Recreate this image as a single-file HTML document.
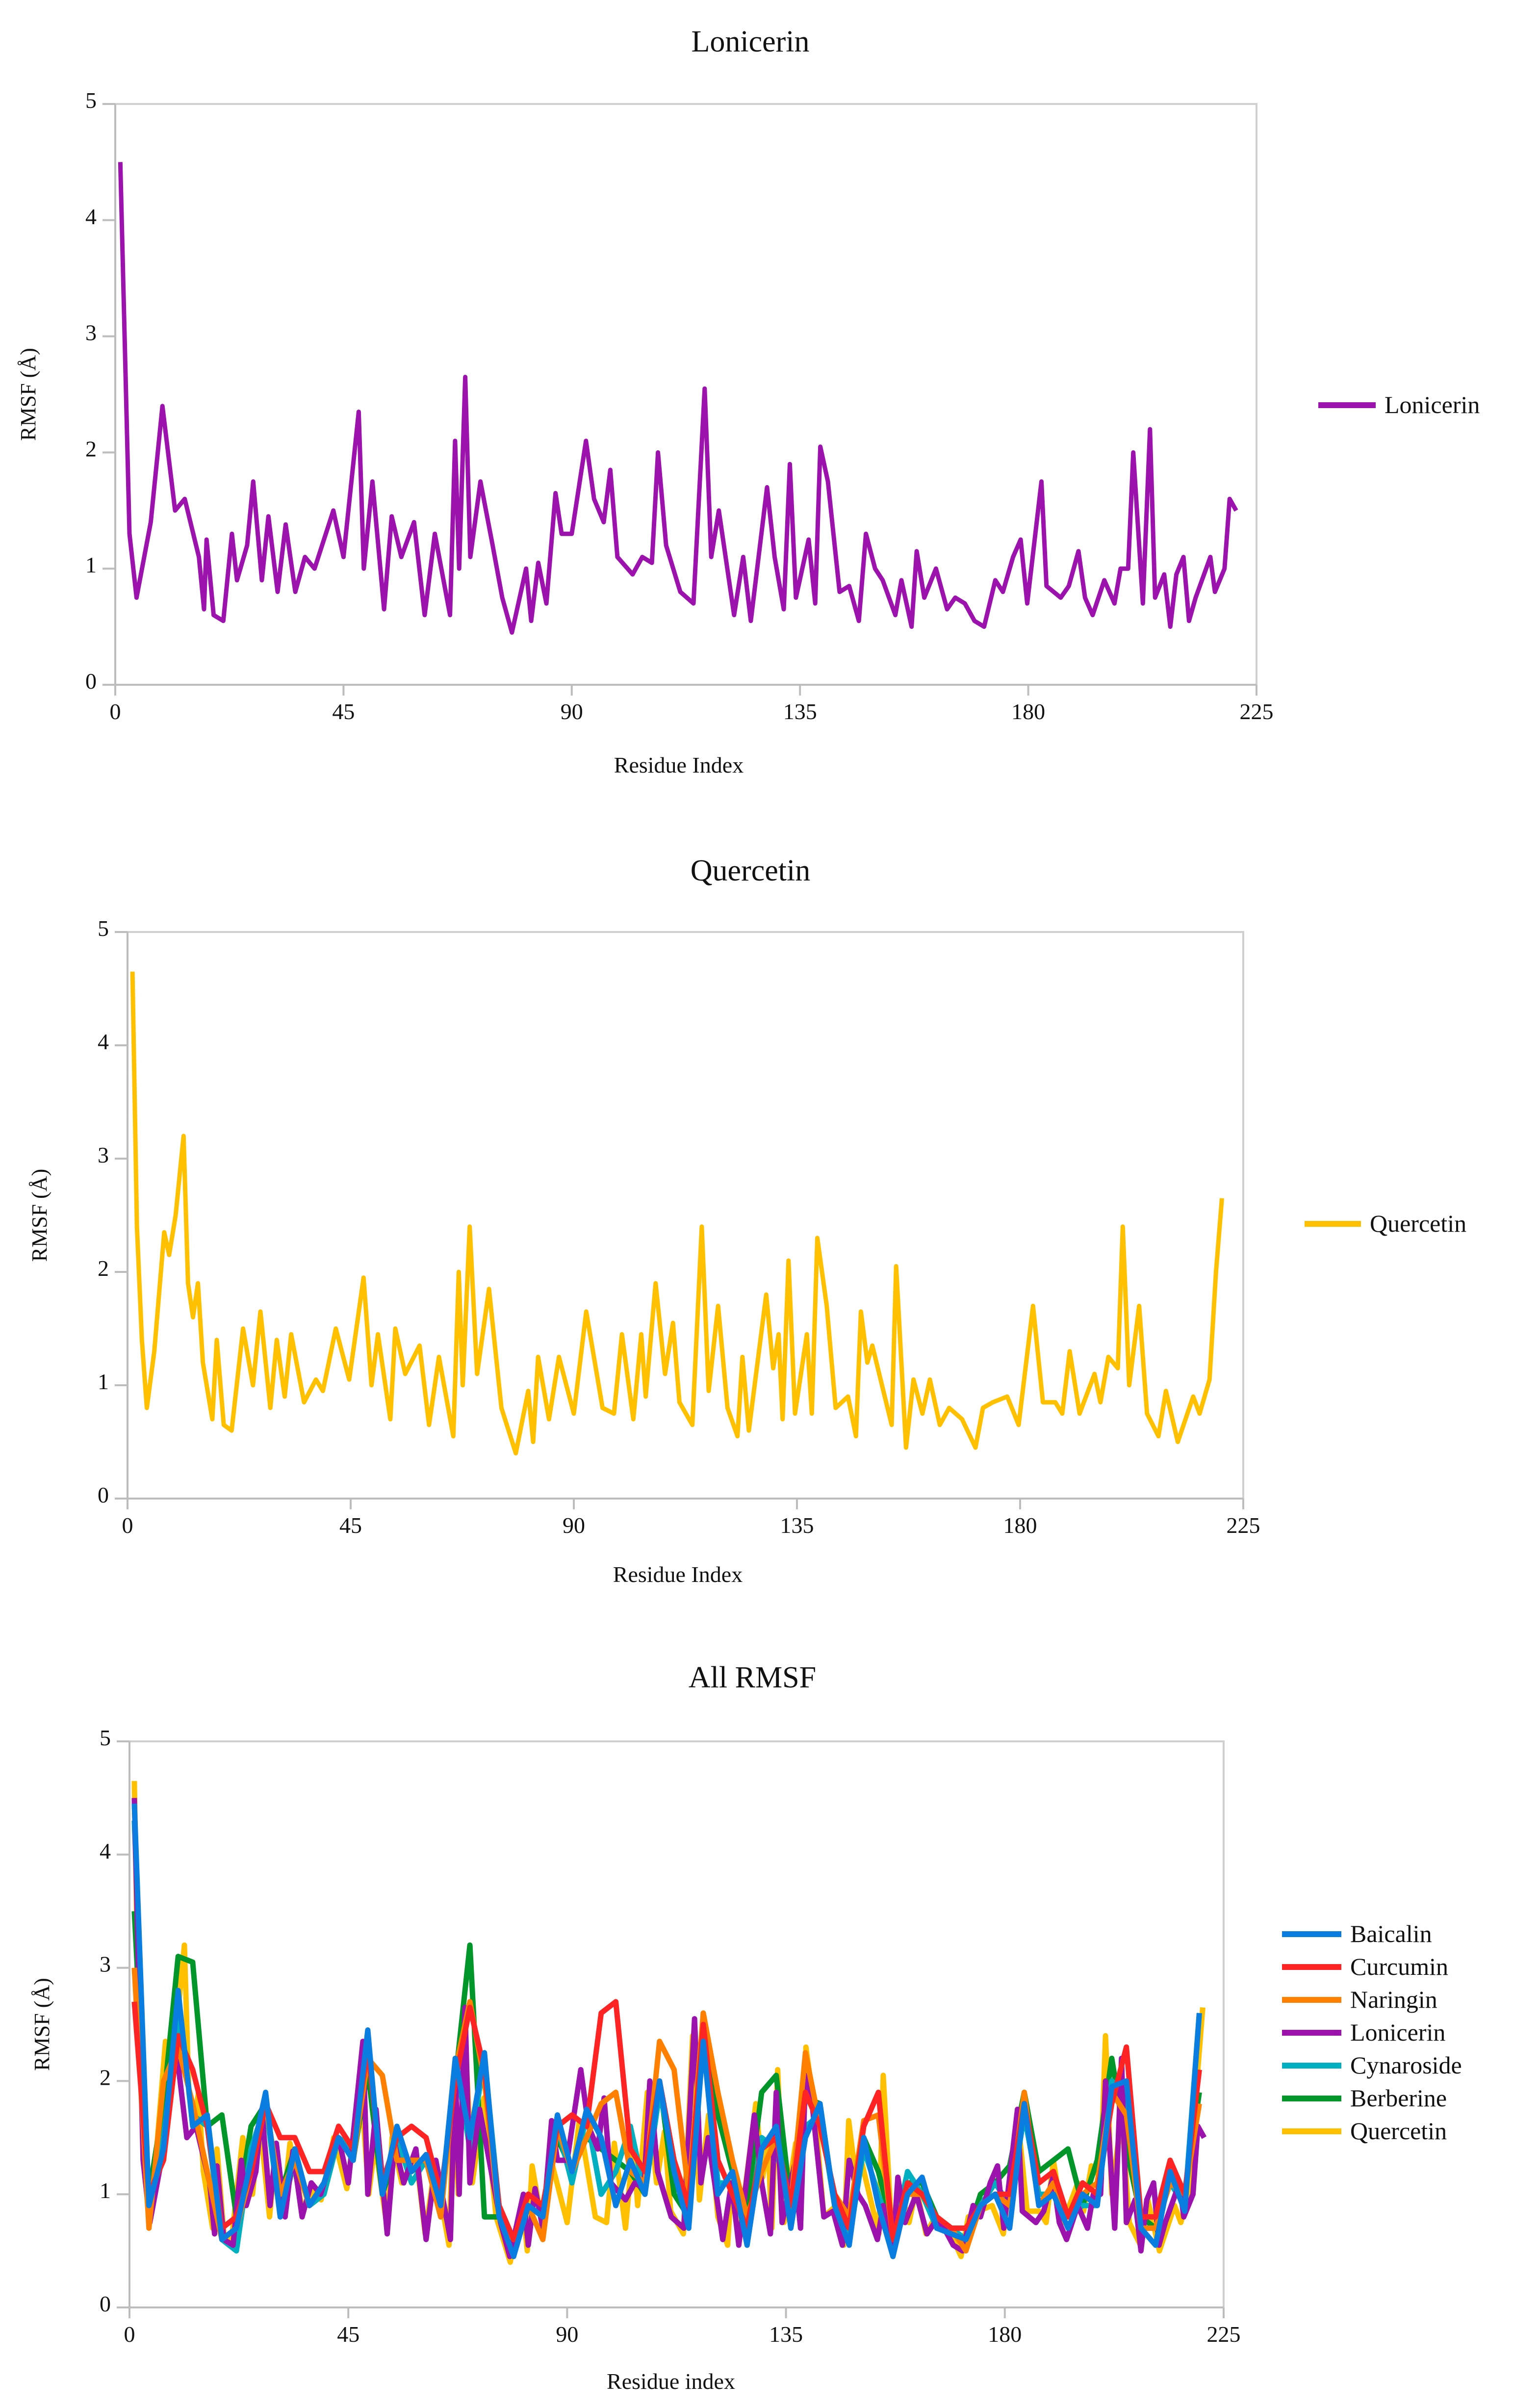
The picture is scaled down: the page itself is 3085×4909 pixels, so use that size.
<!DOCTYPE html>
<html><head><meta charset="utf-8"><style>
html,body{margin:0;padding:0;background:#fff;}
svg{display:block;}
text{font-family:"Liberation Serif",serif;fill:#111;}
</style></head><body>
<svg id="fig" width="3085" height="4909" viewBox="0 0 3085 4909"></svg>
<script>
const lonRes=[1,2.8,4.2,7,9.3,11.8,13.7,16.5,17.5,18,19.4,21.3,23,24,26,27.2,28.9,30.2,32,33.6,35.5,37.4,39.3,43,45,48,49,50.7,53,54.5,56.4,58.9,61,63,66,67,67.8,69,70,72,74.4,76.3,78.2,81,82,83.4,85,86.8,88,90,92.8,94.4,96.3,97.6,99,102,103.9,105.8,107,108.6,111.4,114,116.2,117.5,119,122,123.8,125.3,128.5,130,131.8,133,134.2,136.7,138,139,140.5,142.8,144.7,146.6,148,149.8,151.3,153.8,155,157,158,159.5,161.8,164,165.6,167.5,169.4,171.3,173.5,175,177,178.5,179.8,182.6,183.6,186.4,188,189.9,191.2,192.7,195,197,198.2,199.7,200.7,202.6,204,205,206.8,208,209.2,210.6,211.7,213,215.9,216.8,218.7,219.7,221];
const lonVal=[4.5,1.3,0.75,1.4,2.4,1.5,1.6,1.1,0.65,1.25,0.6,0.55,1.3,0.9,1.2,1.75,0.9,1.45,0.8,1.38,0.8,1.1,1.0,1.5,1.1,2.35,1.0,1.75,0.65,1.45,1.1,1.4,0.6,1.3,0.6,2.1,1.0,2.65,1.1,1.75,1.2,0.75,0.45,1.0,0.55,1.05,0.7,1.65,1.3,1.3,2.1,1.6,1.4,1.85,1.1,0.95,1.1,1.05,2.0,1.2,0.8,0.7,2.55,1.1,1.5,0.6,1.1,0.55,1.7,1.1,0.65,1.9,0.75,1.25,0.7,2.05,1.75,0.8,0.85,0.55,1.3,1.0,0.9,0.6,0.9,0.5,1.15,0.75,1.0,0.65,0.75,0.7,0.55,0.5,0.9,0.8,1.1,1.25,0.7,1.75,0.85,0.75,0.85,1.15,0.75,0.6,0.9,0.7,1.0,1.0,2.0,0.7,2.2,0.75,0.95,0.5,0.95,1.1,0.55,0.75,1.1,0.8,1.0,1.6,1.5];
const queRes=[1,1.9,2.9,3.9,5.4,7.4,8.4,9.7,11.3,12.2,13.2,14.2,15.2,17.1,18,19.4,21,23.3,25.3,26.8,28.8,30.1,31.7,33,35.6,38,39.4,42,44.7,47.6,49.2,50.5,53,54,56,58.9,60.8,62.8,65.7,66.8,67.6,69,70.5,72.9,75.4,78.3,80.8,81.8,82.8,85,87,90,92.5,95.8,98.1,99.7,102,103.6,104.5,106.5,108.4,110,111.3,113.9,115.8,117.2,119.1,121,123,124,125.3,128.8,130.2,131.3,132.1,133.3,134.6,137,138,139.1,141,142.8,145.3,146.9,147.9,149.2,150.2,152.7,154.1,155,157,158.5,160.3,161.8,163.8,165.7,168.3,171,172.5,174.5,177.4,179.7,182.6,184.6,187.1,188.5,190,192,195,196.2,197.8,199.7,200.7,202,204,205.6,207.9,209.4,211.8,214.9,216.2,218.2,219.5,220.7];
const queVal=[4.65,2.4,1.4,0.8,1.3,2.35,2.15,2.5,3.2,1.9,1.6,1.9,1.2,0.7,1.4,0.65,0.6,1.5,1.0,1.65,0.8,1.4,0.9,1.45,0.85,1.05,0.95,1.5,1.05,1.95,1.0,1.45,0.7,1.5,1.1,1.35,0.65,1.25,0.55,2.0,1.0,2.4,1.1,1.85,0.8,0.4,0.95,0.5,1.25,0.7,1.25,0.75,1.65,0.8,0.75,1.45,0.7,1.45,0.9,1.9,1.1,1.55,0.85,0.65,2.4,0.95,1.7,0.8,0.55,1.25,0.6,1.8,1.15,1.45,0.7,2.1,0.75,1.45,0.75,2.3,1.7,0.8,0.9,0.55,1.65,1.2,1.35,0.9,0.65,2.05,0.45,1.05,0.75,1.05,0.65,0.8,0.7,0.45,0.8,0.85,0.9,0.65,1.7,0.85,0.85,0.75,1.3,0.75,1.1,0.85,1.25,1.15,2.4,1.0,1.7,0.75,0.55,0.95,0.5,0.9,0.75,1.05,2.0,2.65];
const gridRes=[1,4,7,10,13,16,19,22,25,28,31,34,37,40,43,46,49,52,55,58,61,64,67,70,73,76,79,82,85,88,91,94,97,100,103,106,109,112,115,118,121,124,127,130,133,136,139,142,145,148,151,154,157,160,163,166,169,172,175,178,181,184,187,190,193,196,199,202,205,208,211,214,217,220];
const baiVal=[4.45,0.9,1.4,2.8,1.6,1.7,0.6,0.7,1.3,1.9,0.8,1.4,0.9,1.1,1.5,1.3,2.45,1.0,1.6,1.2,1.35,0.9,2.2,1.5,2.25,0.8,0.45,0.9,0.8,1.7,1.2,1.75,1.5,0.9,1.3,1.0,2.0,1.2,0.7,2.35,1.0,1.2,0.55,1.4,1.6,0.7,1.5,1.8,0.9,0.55,1.5,0.9,0.45,1.0,1.15,0.7,0.65,0.6,0.9,1.0,0.7,1.8,0.9,1.0,0.7,1.0,0.9,1.95,2.0,0.7,0.55,1.2,0.85,2.6];
const curVal=[2.7,1.0,1.3,2.4,2.1,1.6,0.7,0.8,1.2,1.8,1.5,1.5,1.2,1.2,1.6,1.4,2.3,1.1,1.5,1.6,1.5,1.0,2.0,2.65,2.1,0.9,0.6,1.0,0.9,1.6,1.7,1.6,2.6,2.7,1.4,1.2,2.0,1.3,0.9,2.5,1.3,1.0,0.7,1.4,1.5,0.9,1.9,1.6,1.0,0.7,1.6,1.9,0.6,1.1,1.0,0.8,0.7,0.7,0.9,1.0,1.0,1.8,1.1,1.2,0.8,1.1,1.0,1.8,2.3,0.8,0.8,1.3,1.0,2.1];
const narVal=[3.0,0.7,2.0,2.3,1.8,1.2,0.6,0.7,1.2,1.8,1.0,1.3,0.9,1.1,1.5,1.3,2.2,2.05,1.3,1.3,1.3,0.8,2.1,2.7,2.0,0.8,0.6,0.9,0.6,1.6,1.2,1.5,1.8,1.9,1.2,1.1,2.35,2.1,1.0,2.6,1.9,1.3,0.8,1.2,1.5,0.9,2.25,1.6,1.0,0.8,1.65,1.7,0.6,1.0,1.0,0.8,0.7,0.5,0.9,1.0,0.9,1.9,0.9,1.1,0.8,1.0,1.1,1.9,1.7,0.7,0.7,1.1,1.0,1.8];
const cynVal=[4.3,0.9,1.5,2.6,1.7,1.6,0.6,0.5,1.4,1.8,0.8,1.3,0.9,1.0,1.5,1.4,2.3,1.1,1.5,1.1,1.3,0.8,2.2,1.4,2.2,0.9,0.6,0.9,0.8,1.6,1.1,1.7,1.0,1.2,1.6,1.0,1.9,1.3,0.8,2.6,1.1,1.1,0.6,1.5,1.4,0.8,1.6,1.7,0.9,0.6,1.4,1.0,0.6,1.2,1.0,0.7,0.7,0.6,0.9,1.1,0.9,1.7,1.0,1.0,0.8,0.9,0.9,2.0,1.9,0.7,0.7,1.1,0.9,2.6];
const berVal=[3.5,1.0,1.8,3.1,3.05,1.6,1.7,0.8,1.6,1.8,1.0,1.4,0.9,1.1,1.5,1.3,2.1,1.0,1.4,1.2,1.3,0.9,2.0,3.2,0.8,0.8,0.55,0.9,0.8,1.5,1.2,1.5,1.4,1.3,1.2,1.0,2.0,1.0,0.8,2.4,1.7,1.2,0.9,1.9,2.05,0.9,1.85,1.8,0.9,0.7,1.5,1.2,0.7,1.1,1.1,0.8,0.7,0.6,1.0,1.1,1.25,1.9,1.2,1.3,1.4,0.9,1.3,2.2,1.4,0.8,0.7,1.1,1.0,1.9];
const xTicks=[0,45,90,135,180,225];
const yTicks=[0,1,2,3,4,5];

const NS='http://www.w3.org/2000/svg';
const svg=document.getElementById('fig');
function mk(tag,attrs,parent){const e=document.createElementNS(NS,tag);for(const k in attrs)e.setAttribute(k,attrs[k]);(parent||svg).appendChild(e);return e;}

function chart(cfg){
  const g=mk('g',{});
  
  
  const sx=v=>cfg.L+(v/225)*(cfg.R-cfg.L);
  const sy=v=>cfg.B-(v/5)*(cfg.B-cfg.T);
  const t=mk('text',{x:cfg.titleX,y:cfg.titleY,'text-anchor':'middle','font-size':62},g);
  t.textContent=cfg.title;
  
  
  const fr=mk('rect',{x:cfg.L,y:cfg.T,width:cfg.R-cfg.L,height:cfg.B-cfg.T,fill:'none',stroke:'#d0d0d0','stroke-width':4},g);
  
  
  const ax=mk('line',{x1:cfg.L,y1:cfg.T,x2:cfg.L,y2:cfg.B,stroke:'#bdbdbd','stroke-width':4},g);
  
  
  const ax2=mk('line',{x1:cfg.L,y1:cfg.B,x2:cfg.R,y2:cfg.B,stroke:'#bdbdbd','stroke-width':4},g);
  
  
  yTicks.forEach(v=>{
    mk('line',{x1:cfg.L-26,y1:sy(v),x2:cfg.L,y2:sy(v),stroke:'#bdbdbd','stroke-width':4},g);
    const tl=mk('text',{x:cfg.L-38,y:sy(v)+8,'text-anchor':'end','font-size':46},g);
    tl.textContent=v;
    
    
  });
  xTicks.forEach(v=>{
    mk('line',{x1:sx(v),y1:cfg.B,x2:sx(v),y2:cfg.B+22,stroke:'#bdbdbd','stroke-width':4},g);
    const tl=mk('text',{x:sx(v),y:cfg.B+70,'text-anchor':'middle','font-size':46},g);
    tl.textContent=v;
    
    
  });
  const xl=mk('text',{x:cfg.xLabelX,y:cfg.xLabelY,'text-anchor':'middle','font-size':46},g);
  xl.textContent=cfg.xLabel;
  
  
  const yl=mk('text',{x:0,y:0,'text-anchor':'middle','font-size':44,transform:`translate(${cfg.yLabelX},${(cfg.T+cfg.B)/2}) rotate(-90)`},g);
  yl.textContent='RMSF (Å)';
  
  
  cfg.series.forEach(s=>{
    const d=s.res.map((r,i)=>(i?'L':'M')+sx(r).toFixed(1)+' '+sy(s.val[i]).toFixed(1)).join(' ');
    const p=mk('path',{d:d,fill:'none',stroke:s.color,'stroke-width':cfg.lw,'stroke-linejoin':'round'},g);
    
    
  });
  cfg.legend.forEach((s,i)=>{
    const y=cfg.legY+i*cfg.legStep;
    const lg=mk('g',{},g);
    
    
    mk('line',{x1:cfg.legX1,y1:y,x2:cfg.legX2,y2:y,stroke:s.color,'stroke-width':12},lg);
    const tt=mk('text',{x:cfg.legX2+18,y:y+16,'font-size':50},lg);
    tt.textContent=s.label;
  });
}
const cLon='#9c12ad',cQue='#ffc000';
chart({name:'lonicerin',title:'Lonicerin',titleX:1530,titleY:105,L:235,R:2562,T:212,B:1396,lw:9,xLabel:'Residue Index',xLabelX:1384,xLabelY:1575,yLabelX:72,
  series:[{label:'Lonicerin',res:lonRes,val:lonVal,color:cLon}],
  legend:[{label:'Lonicerin',color:cLon}],legX1:2688,legX2:2805,legY:826,legStep:0});
chart({name:'quercetin',title:'Quercetin',titleX:1530,titleY:1795,L:260,R:2535,T:1900,B:3055,lw:9,xLabel:'Residue Index',xLabelX:1382,xLabelY:3225,yLabelX:95,
  series:[{label:'Quercetin',res:queRes,val:queVal,color:cQue}],
  legend:[{label:'Quercetin',color:cQue}],legX1:2660,legX2:2775,legY:2495,legStep:0});
const all=[
 {label:'Baicalin',res:gridRes,val:baiVal,color:'#0a7ee0'},
 {label:'Curcumin',res:gridRes,val:curVal,color:'#ff2424'},
 {label:'Naringin',res:gridRes,val:narVal,color:'#ff8000'},
 {label:'Lonicerin',res:lonRes,val:lonVal,color:cLon},
 {label:'Cynaroside',res:gridRes,val:cynVal,color:'#00b0c0'},
 {label:'Berberine',res:gridRes,val:berVal,color:'#00962a'},
 {label:'Quercetin',res:queRes,val:queVal,color:cQue}];
chart({name:'all-rmsf',title:'All RMSF',titleX:1534,titleY:3440,L:264,R:2495,T:3550,B:4704,lw:11,xLabel:'Residue index',xLabelX:1368,xLabelY:4870,yLabelX:100,
  series:all.slice().reverse(),legend:all,legX1:2614,legX2:2735,legY:3943,legStep:67});
</script>
</body></html>
